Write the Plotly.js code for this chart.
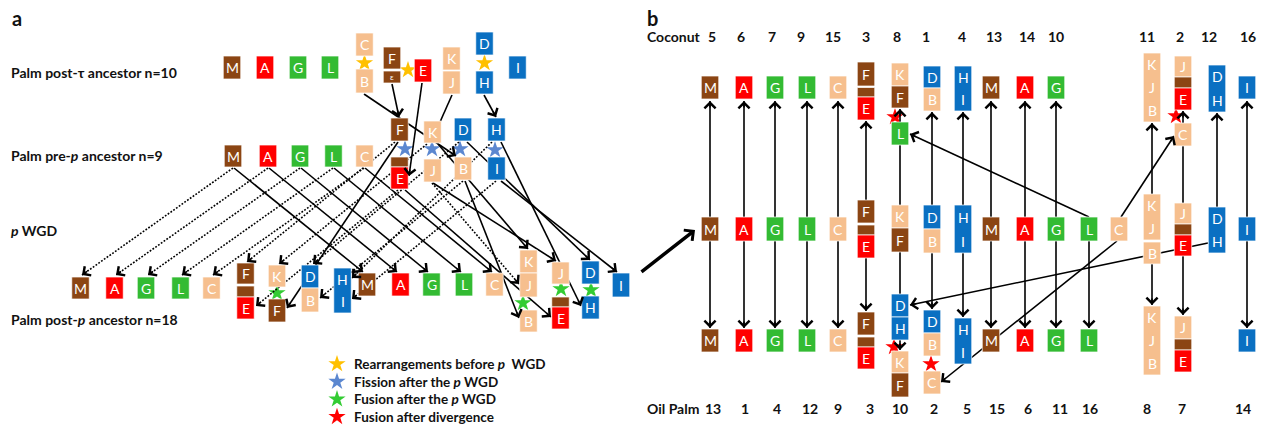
<!DOCTYPE html>
<html><head><meta charset="utf-8">
<script src="https://cdn.plot.ly/plotly-3.0.1.min.js"></script>
<style>html,body{margin:0;padding:0;background:#fff}#chart{width:1262px;height:426px}</style>
</head><body><div id="chart"></div>
<script>
// ---------------- DATA ----------------
// colour group of each ancestral chromosome block
const blockGroup = {M:'brown',A:'red',G:'green',L:'green',C:'tan',B:'tan',K:'tan',J:'tan',F:'brown','ε':'brown','':'brown',E:'red',D:'blue',H:'blue',I:'blue'};

// Panel a rows
const rowTitles = ['Palm post-τ ancestor n=10','Palm pre-<i>p</i> ancestor n=9','<i>p</i> WGD','Palm post-<i>p</i> ancestor n=18'];

// Panel a blocks: [label, centre, top, bottom]
const postTauBlocks = [['M',232,56,79],['A',265,56,79],['G',298,56,79],['L',330,56,79],
  ['C',364.5,33,56],['B',364.5,69,93],['F',392,47,69],['ε',392,71,83],['E',423,59,82],
  ['K',451.5,47,70],['J',451.5,71,94],['D',484.5,32,55],['H',484.5,71,94],['I',517.5,56,79]];
const prePBlocks = [['M',233,145,167],['A',268,145,167],['G',300,145,167],['L',333.5,145,167],['C',364.5,145,167],
  ['F',399.5,118,141],['',399.5,157,167],['E',399.5,167,189],['K',432.5,121,143],['J',432.5,159,182],
  ['D',463,118,141],['B',463,157,180],['H',496.5,118,141],['I',496.5,157,180]];
const postPBlocks = [['M',80.5,277,299],['A',114.5,277,299],['G',146,277,299],['L',180.5,277,299],['C',211.5,277,299],
  ['F',245.5,263,284],['',245.5,286,297],['E',245.5,297,319],['K',277,265,287],['F',277,299,322],
  ['D',310,265,288],['B',310,288,312],['HI',342.5,268,313],
  ['M',367,273,296],['A',400.5,273,296],['G',431.5,273,296],['L',464,273,296],['C',494.5,273,296],
  ['K',528.5,250,273],['J',528.5,273,297],['B',528.5,310,332],
  ['J',560.5,262,284],['',560.5,297,307],['E',560.5,307,329],['D',590.5,261,284],['H',590.5,296,319],['I',621,273,297]];

// Panel a links: [x0,y0,x1,y1,style('s'|'d'),arrowhead]
const linksA = [
  [364,94,456,156,'s',1],[392,84,399,117,'s',1],[422,83,409,176,'s',1],[452,95,440,122,'s',0],[484,95,496,117,'s',1],
  [233,168,82,275,'d',1],[268,168,116,275,'d',1],[300,168,148,275,'d',1],[333,168,182,275,'d',1],[364,168,213,275,'d',1],
  [395,142,247,262,'d',1],[398,190,256,306,'d',1],[427,144,279,264,'d',1],[459,142,313,264,'d',1],
  [463,181,320,298,'d',1],[492,142,352,278,'d',1],[496,181,352,299,'d',1],[432,183,519,284,'d',1],
  [234,168,363,272,'s',1],[269,168,397,272,'s',1],[301,168,428,272,'s',1],[334,168,461,272,'s',1],[365,168,492,272,'s',1],
  [398,142,287,308,'s',1],[438,144,528,249,'s',1],[433,183,556,261,'s',1],[405,190,551,317,'s',1],
  [467,142,590,260,'s',1],[465,181,519,318,'s',1],[501,142,581,306,'s',1],[501,181,617,272,'s',1]];

// Panel a stars: [x,y,type]
const starsA = [[364.5,63,'y'],[408,70,'y'],[484.5,63,'y'],
  [405,149,'b'],[432,149,'b'],[460,149,'b'],[495,150,'b'],
  [277,293,'g'],[523,303,'g'],[561,289,'g'],[591,290,'g']];

const legendTexts = ['Rearrangements before <i>p</i>  WGD','Fission after the <i>p</i> WGD','Fusion after the <i>p</i> WGD','Fusion after divergence'];
const legendTypes = ['y','b','g','r'];

// Panel b columns
const colX = [710,744,775,807,838,866,900,932,963,991,1025,1056,1089,1119,1152,1183,1217,1247];
const coconutNums = ['5','6','7','9','15','3','8','1','4','13','14','10','11','2','12','16'];
const coconutNumX = [712,741,772,801,833,866,897,926,962,994,1027,1056,1147,1180,1209,1248];
const oilPalmNums = ['13','1','4','12','9','3','10','2','5','15','6','11','16','8','7','14'];
const oilPalmNumX = [713,745,777,810,838,870,900,934,967,997,1028,1060,1090,1147,1182,1243];

// Panel b blocks: [label, column, top, bottom]
const coconutBlocks = [['M',0,76,99],['A',1,76,99],['G',2,76,99],['L',3,76,99],['C',4,76,99],
  ['F',5,62,86],['',5,87.5,97],['E',5,97,120],['K',6,63,86],['F',6,86,108],['L',6,122,145],
  ['D',7,66,88],['B',7,88,111],['HI',8,66,111],['M',9,76,99],['A',10,76,99],['G',11,76,99],
  ['KJB',14,53,122],['J',15,56,77],['',15,77,88],['E',15,88,110],['C',15,123,146],['DH',16,65,112],['I',17,76,99]];
const ancestorBlocks = [['M',0,217,241],['A',1,217,241],['G',2,217,241],['L',3,217,241],['C',4,217,241],
  ['F',5,200,223],['',5,225,235],['E',5,235,258],['K',6,205,228],['F',6,228,252],
  ['D',7,205,229],['B',7,229,253],['HI',8,205,253],['M',9,217,241],['A',10,217,241],['G',11,217,241],
  ['L',12,217,241],['C',13,217,241],['KJ',14,194,240],['B',14,242,264],
  ['J',15,203,224],['',15,224,235],['E',15,235,256],['DH',16,207,253],['I',17,217,241]];
const oilPalmBlocks = [['M',0,329,352],['A',1,329,352],['G',2,329,352],['L',3,329,352],['C',4,329,352],
  ['F',5,312,335],['',5,337,347],['E',5,347,369],['D',6,294,317],['H',6,317,340],['K',6,351,373],['F',6,373,397],
  ['D',7,310,333],['B',7,333,356],['C',7,371,394],['HI',8,318,364],
  ['M',9,329,352],['A',10,329,352],['G',11,329,352],['L',12,329,352],
  ['KJB',14,306,375],['J',15,316,339],['',15,339,350],['E',15,350,372],['I',17,329,352]];

// Panel b links: [x0,y0,x1,y1,arrowhead]
const linksB = [
  [710,217,710,101,1],[744,217,744,101,1],[775,217,775,101,1],[807,217,807,101,1],[838,217,838,101,1],
  [866,200,866,121,1],[900,205,900,109,1],[932,205,932,112,1],[963,205,963,112,1],
  [991,217,991,101,1],[1025,217,1025,101,1],[1056,217,1056,101,1],[1152,194,1152,123,1],
  [1183,203,1183,111,1],[1217,207,1217,113,1],[1247,217,1247,101,1],
  [1089,217,910,134,1],[1121,217,1174,136,1],
  [710,241,710,328,1],[744,241,744,328,1],[775,241,775,328,1],[807,241,807,328,1],[838,241,838,328,1],
  [866,258,866,311,1],[900,252,900,294,0],[900,340,900,350,1],[932,253,932,309,1],[963,253,963,317,1],
  [991,241,991,328,1],[1025,241,1025,328,1],[1056,241,1056,328,1],[1089,241,1089,328,1],
  [1152,264,1152,305,1],[1183,256,1183,315,1],[1247,241,1247,328,1],
  [1208,243,910,305,1],[1117,241,941,382,1]];
const starsB = [[895,117,'r'],[1176,116,'r'],[894,347,'r'],[931,364,'r']];

// ---------------- DRAWING ----------------
const palette = {brown:'#8B4513',red:'#FF0000',green:'#33BB33',tan:'#F6BF8E',blue:'#0A70C2'};
const starColour = {y:'#FFC000',b:'#5B87D0',g:'#33CC33',r:'#FF0000'};
const HALF = 8.75;
const shapes = [], annotations = [];
const FONT = 'Lato, "Open Sans", sans-serif';

function addLink(x0,y0,x1,y1,style,head){
  const w = 1.6;
  shapes.push({type:'line',xref:'x',yref:'y',x0,y0,x1,y1,layer:'above',
    line:{color:'#000',width:w,dash: style==='d' ? '1.8px,1.6px' : 'solid'}});
  if(head){
    const dx=x1-x0, dy=y1-y0, L=Math.hypot(dx,dy), back=Math.min(8,L);
    annotations.push({x:x1,y:y1,ax:x1-dx/L*back,ay:y1-dy/L*back,axref:'x',ayref:'y',xref:'x',yref:'y',
      text:'',showarrow:true,arrowhead:4,arrowsize:1.35,arrowwidth:w,arrowcolor:'#000',standoff:0});
  }
}
function addBlock(label,x,y0,y1){
  const key = label.length>1 ? label[0] : label;
  shapes.push({type:'rect',xref:'x',yref:'y',x0:x-HALF,x1:x+HALF,y0,y1,layer:'above',
    fillcolor:palette[blockGroup[key]],line:{color:'rgba(255,255,255,0.9)',width:0.8}});
  const letters = label.split('');
  const h = (y1-y0)/Math.max(letters.length,1);
  letters.forEach((ch,i)=>{
    annotations.push({x:x,y:y0+h*(i+0.5),xref:'x',yref:'y',text:ch,showarrow:false,
      font:{family:FONT,size: ch==='ε'?8:14,color:'#fff'},xanchor:'center',yanchor:'middle'});
  });
}
function addText(text,x,y,size,anchor){
  annotations.push({x,y,xref:'x',yref:'y',text:'<b>'+text+'</b>',showarrow:false,
    font:{family:FONT,size:size,color:'#111'},xanchor:anchor||'left',yanchor:'middle'});
}

// links first (drawn beneath blocks)
linksA.forEach(l=>addLink(l[0],l[1],l[2],l[3],l[4],l[5]));
linksB.forEach(l=>addLink(l[0],l[1],l[2],l[3],'s',l[4]));
// big arrow joining panel a to panel b
annotations.push({x:695,y:230,ax:640,ay:273,axref:'x',ayref:'y',xref:'x',yref:'y',text:'',showarrow:true,
  arrowhead:4,arrowsize:0.75,arrowwidth:3.5,arrowcolor:'#000',standoff:0});

[postTauBlocks,prePBlocks,postPBlocks].forEach(row=>row.forEach(b=>addBlock(b[0],b[1],b[2],b[3])));
[coconutBlocks,ancestorBlocks,oilPalmBlocks].forEach(row=>row.forEach(b=>addBlock(b[0],colX[b[1]],b[2],b[3])));

// texts
addText('a',10,18,20); addText('b',645,18,20);
const rowTitleY = [72,155,230,319];
rowTitles.forEach((t,i)=>addText(t,9,rowTitleY[i],14));
legendTexts.forEach((t,i)=>addText(t,352,364+i*17.6,13.5));
addText('Coconut',645,36,14); addText('Oil Palm',645,408,14);
coconutNums.forEach((n,i)=>addText(n,coconutNumX[i],36,14,'center'));
oilPalmNums.forEach((n,i)=>addText(n,oilPalmNumX[i],408,14,'center'));

// stars
const allStars = starsA.concat(starsB).concat(legendTypes.map((t,i)=>[337,364+i*17.6,t]));
const traces = [{type:'scatter',mode:'markers',x:allStars.map(s=>s[0]),y:allStars.map(s=>s[1]),
  marker:{symbol:'star',size:13,color:allStars.map(s=>starColour[s[2]]),line:{width:0}},hoverinfo:'skip'}];

const layout = {width:1262,height:426,margin:{l:0,r:0,t:0,b:0},paper_bgcolor:'#fff',plot_bgcolor:'#fff',
  showlegend:false,
  xaxis:{range:[0,1262],visible:false,fixedrange:true},
  yaxis:{range:[426,0],visible:false,fixedrange:true},
  shapes,annotations};
Plotly.newPlot('chart',traces,layout,{staticPlot:true,displayModeBar:false});
</script></body></html>
